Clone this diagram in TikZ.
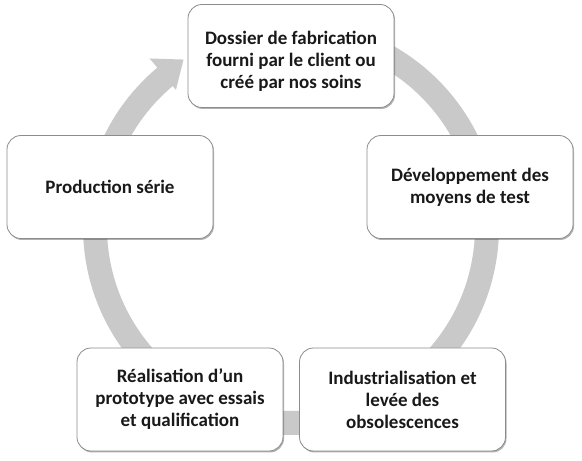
\documentclass[tikz,border=0pt]{standalone}
\usepackage{fontspec}
\setmainfont{Carlito}
\usetikzlibrary{shadows}
\begin{document}
\begin{tikzpicture}[x=1pt, y=1pt,
  stepbox/.style={draw=black!45, line width=0.8pt, fill=white, rounded corners=14pt,
    minimum width=206pt, minimum height=103pt, align=center, inner sep=0pt,
    font=\bfseries\fontsize{19}{22}\selectfont, text=black!90,
    drop shadow={shadow xshift=1pt, shadow yshift=-1.5pt, opacity=0.3, fill=black}}]
\useasboundingbox (0,0) rectangle (582,461);
\definecolor{ringcol}{HTML}{C9C9C9}
\coordinate (c) at (291,234);
\begin{scope}[shift={(c)}]
\fill[ringcol] (90:208) arc[start angle=90, end angle=-230, radius=208]
  -- (-230:220) -- (-237.3:199) -- (-230:179) -- (-230:184)
  arc[start angle=-230, end angle=90, radius=184] -- cycle;
\end{scope}
\node[stepbox, text height=70pt, text depth=5pt] (dossier) at (291,405) {Dossier de fabrication\\fourni par le client ou\\créé par nos soins};
\node[stepbox] (moyens) at (470,274) {Développement des\\moyens de test};
\node[stepbox] (indus) at (402.5,61.5) {Industrialisation et\\levée des\\obsolescences};
\node[stepbox] (proto) at (180,61.5) {Réalisation d’un\\prototype avec essais\\et qualification};
\node[stepbox] (serie) at (110,274) {Production série};
\end{tikzpicture}
\end{document}
